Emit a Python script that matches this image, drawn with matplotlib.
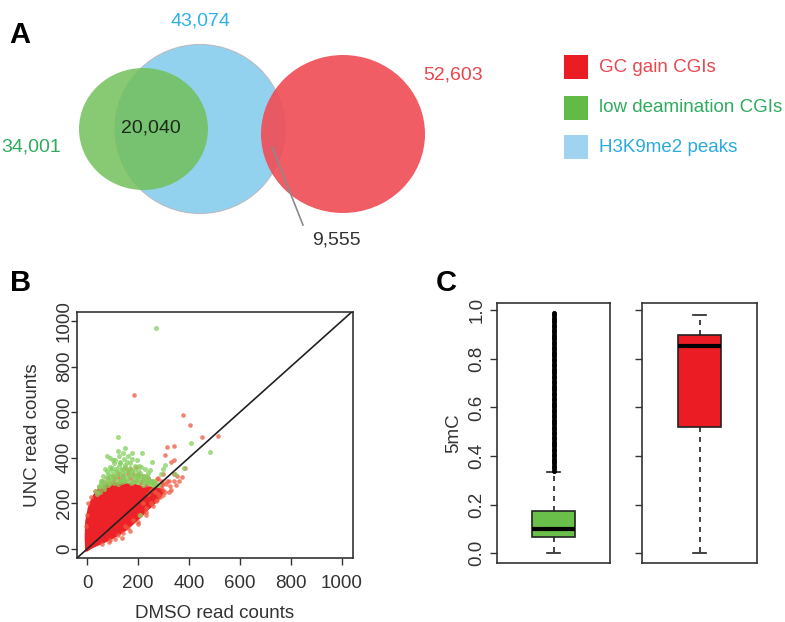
import numpy as np
import matplotlib
matplotlib.use("Agg")
import matplotlib.pyplot as plt
from matplotlib.patches import Ellipse, Rectangle

plt.rcParams['font.family'] = ['Liberation Sans', 'DejaVu Sans']

# ---- data ----
# Venn (panel A)
set_names = ['GC gain CGIs', 'low deamination CGIs', 'H3K9me2 peaks']
set_counts = [52603, 34001, 43074]
overlap_green_blue = 20040
overlap_red_blue = 9555

# scatter (panel B): sparse points (DMSO, UNC)
green_pts = [(272, 969), (122, 491), (150, 443), (409, 465), (481, 425), (77, 408),
             (215, 422), (307, 368), (209, 149), (60, 300), (80, 330), (95, 345),
             (110, 310), (125, 365), (140, 335), (155, 380), (170, 355), (185, 320),
             (200, 340), (225, 310), (240, 335), (255, 300), (65, 265), (90, 290),
             (105, 375), (130, 300), (145, 395), (160, 300), (175, 395), (190, 300),
             (205, 365), (220, 280), (50, 270), (70, 350), (100, 330), (120, 285),
             (135, 350), (165, 340), (180, 295), (195, 390), (230, 300), (260, 280),
             (40, 240), (55, 300), (85, 320), (115, 350), (150, 300), (170, 330),
             (210, 320), (245, 290), (140, 420), (160, 410), (100, 390), (125, 410),
             (380, 355), (345, 330), (75, 310), (115, 325), (135, 315), (185, 345),
             (150, 360), (95, 305), (200, 305), (60, 280), (235, 320), (130, 380),
             (45, 275), (55, 290), (62, 320), (70, 295), (78, 340), (85, 300),
             (92, 315), (98, 355), (105, 290), (112, 340), (118, 300), (125, 330),
             (132, 345), (138, 295), (145, 320), (152, 340), (158, 305), (165, 320),
             (172, 290), (178, 340), (186, 310), (193, 325), (200, 295), (208, 335),
             (215, 300), (222, 320), (232, 295), (240, 310), (250, 285), (262, 300),
             (270, 290), (280, 280), (88, 360), (108, 390), (128, 375), (148, 370),
             (168, 375), (188, 365), (210, 360), (228, 350), (248, 345), (120, 430),
             (90, 400), (175, 420), (255, 380), (290, 330), (300, 350), (35, 255),
             (50, 250), (68, 275), (82, 282), (142, 305), (198, 315), (242, 300)]
red_pts = [(185, 675), (378, 588), (405, 544), (453, 491), (516, 496), (315, 447),
           (342, 452), (386, 355), (373, 317), (343, 390), (307, 412), (137, 48),
           (330, 380), (300, 330), (280, 310), (320, 300), (350, 280), (260, 290),
           (240, 310), (220, 320), (200, 330), (180, 300), (160, 330), (140, 310),
           (120, 320), (100, 300), (90, 290), (170, 350), (210, 290), (250, 260),
           (290, 270), (305, 250), (330, 260), (285, 230), (270, 210), (230, 160),
           (260, 190), (200, 120), (160, 90), (120, 60), (90, 40), (60, 20),
           (300, 290), (340, 330), (360, 300), (190, 360), (150, 355), (230, 280),
           (265, 250), (220, 200), (240, 240), (60, 300), (80, 310), (100, 320),
           (120, 335), (140, 325), (160, 340), (180, 330), (200, 320), (220, 305),
           (240, 300), (260, 295), (275, 305), (290, 300), (310, 285), (325, 275),
           (110, 310), (130, 305), (150, 300), (170, 310), (190, 300), (210, 295),
           (230, 290), (250, 300), (270, 280), (295, 280), (315, 300), (340, 300),
           (355, 320), (280, 240), (300, 235), (320, 250), (250, 200), (275, 215),
           (230, 180), (205, 150), (180, 125), (150, 100), (230, 150), (200, 110),
           (170, 80), (140, 70), (110, 45), (85, 30), (300, 260), (0, 150),
           (-5, 100), (5, 200), (15, 230), (30, 255), (45, 270), (75, 290)]
# outline of the solid red core of the cloud
core_x = [-8, -10, -8, 2, 12, 25, 40, 60, 90, 130, 160, 190, 220, 250, 280,
          300, 305, 290, 265, 240, 215, 185, 160, 130, 95, 60, 25, 0]
core_y = [-12, 50, 120, 180, 210, 240, 262, 280, 292, 295, 290, 285, 275, 275,
          270, 262, 250, 225, 195, 170, 140, 110, 85, 62, 40, 22, 5, -12]

# box plots (panel C): 5mC
green_stats = dict(med=0.10, q1=0.068, q3=0.175, whislo=0.0, whishi=0.335,
                   fliers=[0.34, 0.35, 0.36, 0.37, 0.38, 0.39, 0.40, 0.41, 0.42,
                           0.43, 0.44, 0.45, 0.46, 0.47, 0.48, 0.49, 0.50, 0.51,
                           0.52, 0.53, 0.54, 0.55, 0.56, 0.57, 0.58, 0.59, 0.60,
                           0.61, 0.62, 0.63, 0.64, 0.65, 0.66, 0.67, 0.68, 0.69,
                           0.70, 0.71, 0.72, 0.73, 0.74, 0.75, 0.76, 0.77, 0.78,
                           0.79, 0.80, 0.81, 0.82, 0.83, 0.84, 0.85, 0.86, 0.87,
                           0.88, 0.89, 0.90, 0.91, 0.92, 0.93, 0.94, 0.95, 0.96,
                           0.97, 0.98, 0.99])
red_stats = dict(med=0.855, q1=0.52, q3=0.90, whislo=0.0, whishi=0.98, fliers=[])

# ---- figure ----
fig = plt.figure(figsize=(7.85, 6.22), dpi=100)

# overlay in pixel units for panel A and letters
ov = fig.add_axes([0, 0, 1, 1])
ov.set_xlim(0, 785)
ov.set_ylim(622, 0)
ov.axis('off')

c_red, c_green, c_blue = '#ef4f57', '#73c05a', '#92d2ef'
ov.add_patch(Ellipse((200, 129), 170, 169, facecolor=c_blue, edgecolor='#b8bcc4', lw=0.8))
ov.add_patch(Ellipse((143.5, 129), 129, 122, facecolor=c_green, edgecolor='none', alpha=0.85))
ov.add_patch(Ellipse((343, 134), 164, 158, facecolor=c_red, edgecolor='none', alpha=0.92))

ov.text(200, 21, f"{set_counts[2]:,}", color='#2db3e8', fontsize=14, ha='center', va='center')
ov.text(453, 75, f"{set_counts[0]:,}", color='#e8474f', fontsize=14, ha='center', va='center')
ov.text(1, 147, f"{set_counts[1]:,}", color='#2fab5e', fontsize=14, ha='left', va='center')
ov.text(151, 128, f"{overlap_green_blue:,}", color='#1a2a1a', fontsize=14, ha='center', va='center')
ov.text(336, 240, f"{overlap_red_blue:,}", color='#333333', fontsize=14, ha='center', va='center')
ov.plot([272, 303], [147, 225], color='#8a8a8a', lw=1.2)

leg_cols = ['#ec1c24', '#62bb46', '#9fd3ef']
leg_txt = ['#e84850', '#2fab5e', '#29abe2']
leg_y = [67, 108, 147]
for name, fc, tc, yy in zip(set_names, leg_cols, leg_txt, leg_y):
    ov.add_patch(Rectangle((564, yy - 12), 24, 24, facecolor=fc, edgecolor='none'))
    ov.text(599, yy, name, color=tc, fontsize=13.5, ha='left', va='center')

for lab, x, y in [('A', 20, 35), ('B', 21, 283), ('C', 446, 283)]:
    ov.text(x, y, lab, fontsize=21, fontweight='bold', ha='center', va='center')

frame_c = '#333333'

# panel B
axb = fig.add_axes([77 / 785, 1 - 558 / 622, 276 / 785, 246 / 622])
gx, gy = zip(*green_pts)
rx, ry = zip(*red_pts)
axb.fill(core_x, core_y, color='#ec2228', lw=0, zorder=2)
axb.scatter(rx, ry, s=11, color='#ef5a42', alpha=0.75, linewidths=0, zorder=3)
axb.scatter(gx, gy, s=13, color='#86d05e', alpha=0.75, linewidths=0, zorder=4)
axb.axline((0, 0), slope=1, color='#222222', lw=1.2, zorder=5)
axb.set_xlim(-40, 1045)
axb.set_ylim(-40, 1040)
ticks = [0, 200, 400, 600, 800, 1000]
axb.set_xticks(ticks)
axb.set_yticks(ticks)
axb.tick_params(axis='both', labelsize=13.5, length=5, width=1, color=frame_c, labelcolor='#333333')
axb.tick_params(axis='x', pad=7.5)
axb.tick_params(axis='y', labelrotation=90, pad=-1, length=4)
for t in axb.get_yticklabels():
    t.set_va('center')
axb.set_xlabel('DMSO read counts', fontsize=13.5, color='#333333', labelpad=9)
axb.set_ylabel('UNC read counts', fontsize=13.5, color='#333333', labelpad=11)
for s in axb.spines.values():
    s.set_color(frame_c)
    s.set_linewidth(1.2)

# panel C
def box_panel(rect, stats, color, labels):
    ax = fig.add_axes(rect)
    ax.bxp([stats], positions=[1], widths=0.38, capwidths=0.11, patch_artist=True,
           showfliers=True,
           boxprops=dict(facecolor=color, edgecolor='#222222', lw=1.2),
           medianprops=dict(color='black', lw=3),
           whiskerprops=dict(color='#222222', lw=1.2, linestyle=(0, (3, 3))),
           capprops=dict(color='#222222', lw=1.2),
           flierprops=dict(marker='o', markersize=3.0, markerfacecolor='black',
                           markeredgecolor='black', markeredgewidth=0.6))
    ax.set_xlim(0.5, 1.5)
    ax.set_ylim(-0.04, 1.03)
    ax.set_xticks([])
    ax.set_yticks([0.0, 0.2, 0.4, 0.6, 0.8, 1.0])
    ax.tick_params(axis='y', length=5, width=1, color=frame_c, labelsize=13.5,
                   labelcolor='#333333', labelrotation=90)
    if labels:
        ax.set_yticklabels(['0.0', '0.2', '0.4', '0.6', '0.8', '1.0'])
        for t in ax.get_yticklabels():
            t.set_va('center')
        ax.set_ylabel('5mC', fontsize=13.5, color='#333333', labelpad=4.5)
    else:
        ax.set_yticklabels([])
    for s in ax.spines.values():
        s.set_color(frame_c)
        s.set_linewidth(1.2)
    return ax

box_panel([497 / 785, 1 - 563 / 622, 113 / 785, 260 / 622], green_stats, '#6abf4b', True)
box_panel([642 / 785, 1 - 563 / 622, 115 / 785, 260 / 622], red_stats, '#ec1c24', False)

fig.savefig('out.png', dpi=100)
